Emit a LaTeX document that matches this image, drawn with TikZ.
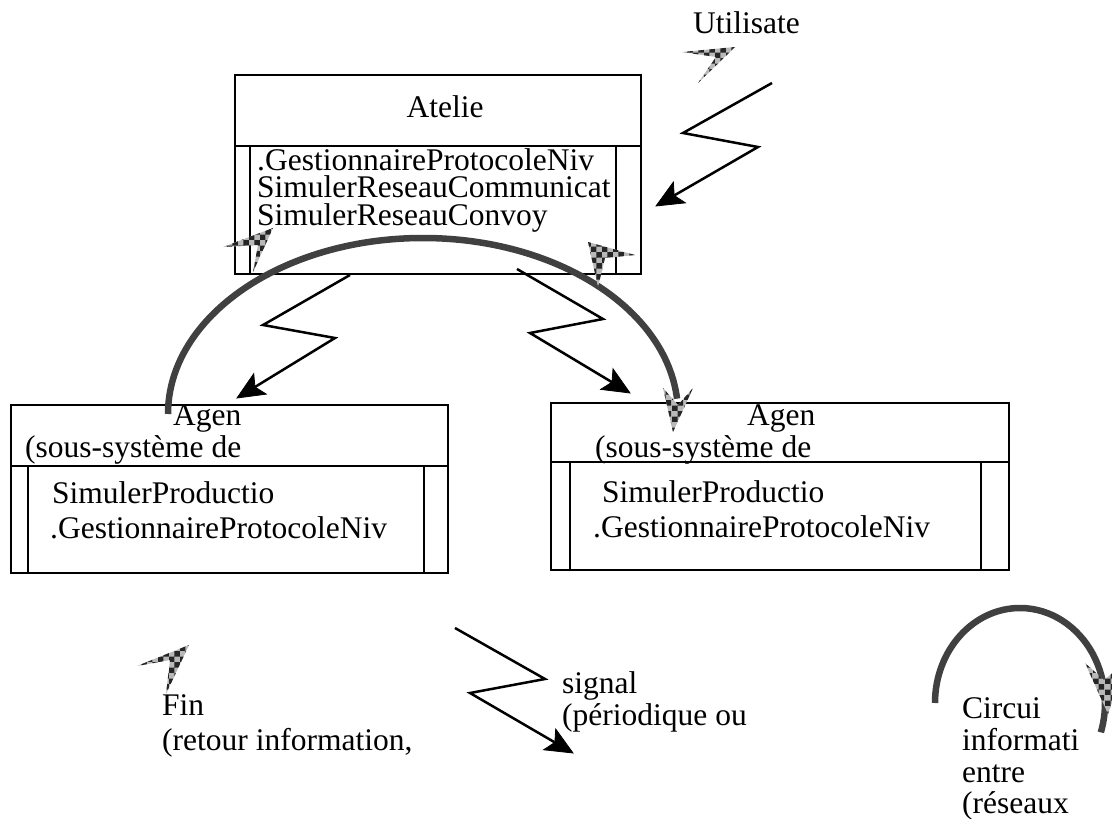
\documentclass[tikz,border=0pt]{standalone}
\usepackage{fontspec}
\setmainfont{Liberation Serif}
\usetikzlibrary{calc,patterns}
\definecolor{arcgray}{RGB}{64,64,64}
\tikzset{
  boxline/.style={draw=black, line width=2.2pt},
  zig/.style={draw=black, line width=2.5pt, line join=miter, shorten >=6pt},
  zighd/.style={fill=black, draw=black, line width=0.8pt, line join=miter},
  bigarc/.style={draw=arcgray, line width=6.5pt},
  checkhead/.style={preaction={fill=gray!55}, pattern=checkerboard, pattern color=black!85},
  txt/.style={inner sep=0pt, font=\fontsize{31.5}{31.5}\selectfont, anchor=base west},
}
% arrowhead at #1 coming from #2
\newcommand{\zighead}[2]{%
  \path[zighd] ($(#1)!27pt!(#2)!12pt!90:(#1)$) -- (#1) -- ($(#1)!27pt!(#2)!12pt!-90:(#1)$) -- ($(#1)!21pt!(#2)$) -- cycle;}
\begin{document}
\begin{tikzpicture}[x=1pt,y=-1pt]
\useasboundingbox (0,0) rectangle (1112,819);
\clip (0,0) rectangle (1112,819);

% ---- Atelier box
\node[boxline, anchor=north west, minimum width=406pt, minimum height=199pt, inner sep=0pt] (atelie) at (234,74) {};
\draw[boxline] (234,146) -- (640,146);
\draw[boxline] (250,146) -- (250,273);
\draw[boxline] (616,146) -- (616,273);
\node[txt, anchor=base] (tatelie) at (445,117) {Atelie};
\node[txt] (ta1) at (257,170) {.GestionnaireProtocoleNiv};
\node[txt] (ta2) at (257,197) {SimulerReseauCommunicat};
\node[txt] (ta3) at (257,225) {SimulerReseauConvoy};

% ---- Left agent box
\node[boxline, anchor=north west, minimum width=437pt, minimum height=168pt, inner sep=0pt] (agL) at (10,404) {};
\draw[boxline] (10,466) -- (447,466);
\draw[boxline] (28,466) -- (28,572);
\draw[boxline] (424,466) -- (424,572);
\node[txt] (tl1) at (173,425) {Agen};
\node[txt] (tl2) at (25,457) {(sous-système de};
\node[txt] (tl3) at (52,503) {SimulerProductio};
\node[txt] (tl4) at (50,538) {.GestionnaireProtocoleNiv};

% ---- Right agent box
\node[boxline, anchor=north west, minimum width=458pt, minimum height=167pt, inner sep=0pt] (agR) at (550,402) {};
\draw[boxline] (550,462) -- (1008,462);
\draw[boxline] (570,462) -- (570,569);
\draw[boxline] (981,462) -- (981,569);
\node[txt] (tr1) at (747,425) {Agen};
\node[txt] (tr2) at (595,457) {(sous-système de};
\node[txt] (tr3) at (602,502) {SimulerProductio};
\node[txt] (tr4) at (593,537) {.GestionnaireProtocoleNiv};

% ---- free texts
\node[txt] (tutil) at (693,33) {Utilisate};
\node[txt] (tfin1) at (162,715) {Fin};
\node[txt] (tfin2) at (162,750) {(retour information,};
\node[txt] (tsig1) at (562,693) {signal};
\node[txt] (tsig2) at (562,725) {(périodique ou};
\node[txt] (tc1) at (962,718) {Circui};
\node[txt] (tc2) at (962,750) {informati};
\node[txt] (tc3) at (962,782) {entre};
\node[txt] (tc4) at (962,813) {(réseaux};

% ---- zigzag connectors
\coordinate (z1s) at (772,83);  \coordinate (z1b) at (758,147); \coordinate (z1e) at (656,206);
\coordinate (z2s) at (350,275); \coordinate (z2b) at (335,338); \coordinate (z2e) at (237,398);
\coordinate (z3s) at (517,269); \coordinate (z3b) at (530,333); \coordinate (z3e) at (630,393);
\coordinate (z4s) at (455,628); \coordinate (z4b) at (470,693); \coordinate (z4e) at (573,753);
\draw[zig] (z1s) -- (683,133) -- (z1b) -- (z1e); \zighead{z1e}{z1b}
\draw[zig] (z2s) -- (263,325) -- (z2b) -- (z2e); \zighead{z2e}{z2b}
\draw[zig] (z3s) -- (603,319) -- (z3b) -- (z3e); \zighead{z3e}{z3b}
\draw[zig] (z4s) -- (545,679) -- (z4b) -- (z4e); \zighead{z4e}{z4b}

% ---- big arc between agents
\coordinate (arcL) at (168,414);
\draw[bigarc] (arcL) arc[start angle=180, end angle=355, x radius=255, y radius=176];
% ---- small circuit arc
\coordinate (arcC) at (935,703);
\draw[bigarc] (arcC) arc[start angle=180, end angle=378, x radius=85, y radius=95];

% ---- checkered arrowheads
\fill[checkhead] (735,47) -- (682,52) -- (716,57) -- (698,83) -- cycle;
\fill[checkhead] (273,228) -- (223,247) -- (258,245) -- (253,272) -- cycle;
\fill[checkhead] (588,242) -- (635,255) -- (605,258) -- (598,287) -- cycle;
\fill[checkhead] (189,645) -- (137,666) -- (170,660) -- (166,694) -- cycle;
\fill[checkhead] (673,432) -- (663,388) -- (678,405) -- (693,388) -- cycle;
\fill[checkhead] (1108,714) -- (1085,663) -- (1104,680) -- (1126,662) -- cycle;
\end{tikzpicture}
\end{document}
